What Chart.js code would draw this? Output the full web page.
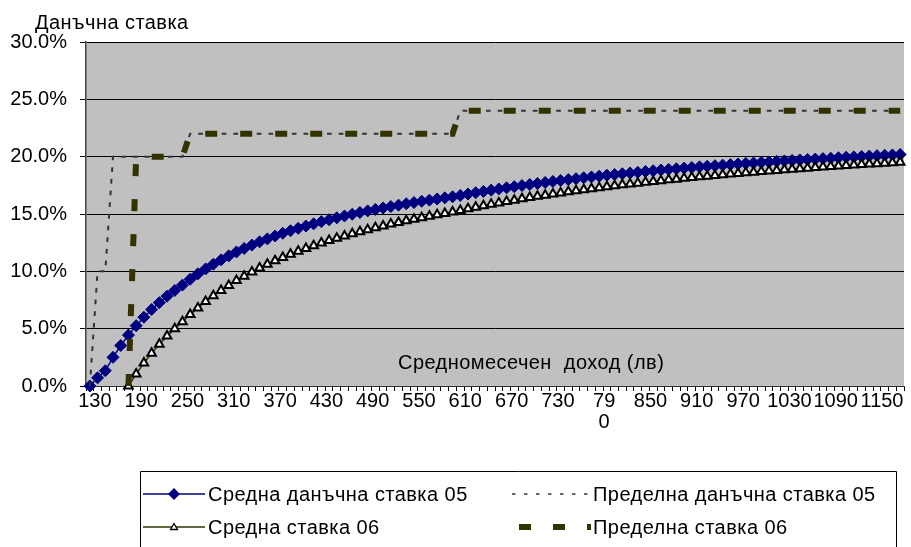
<!DOCTYPE html>
<html>
<head>
<meta charset="utf-8">
<script src="https://cdn.jsdelivr.net/npm/chart.js@4.4.1/dist/chart.umd.min.js"></script>
<style>
  html, body { margin: 0; padding: 0; background: #fff; }
  #wrap { width: 911px; height: 547px; position: relative; overflow: hidden; }
</style>
</head>
<body>
<div id="wrap"><canvas id="c" width="911" height="547"></canvas></div>
<script>
// ---- data (income in лв, rates in %) ----
const categories = [
  130,140,150,160,170,180,190,200,210,220,
  230,240,250,260,270,280,290,300,310,320,
  330,340,350,360,370,380,390,400,410,420,
  430,440,450,460,470,480,490,500,510,520,
  530,540,550,560,570,580,590,600,610,620,
  630,640,650,660,670,680,690,700,710,720,
  730,740,750,760,770,780,790,800,810,820,
  830,840,850,860,870,880,890,900,910,920,
  930,940,950,960,970,980,990,1000,1010,1020,
  1030,1040,1050,1060,1070,1080,1090,1100,1110,1120,
  1130,1140,1150,1160,1170,1180
];

const avgRate05 = [
  0,0.71,1.33,2.5,3.53,4.44,5.26,6.0,6.67,7.27,
  7.83,8.33,8.8,9.31,9.78,10.21,10.62,11.0,11.35,11.69,
  12.0,12.29,12.57,12.83,13.08,13.32,13.54,13.75,13.95,14.14,
  14.33,14.5,14.67,14.83,14.98,15.13,15.27,15.4,15.53,15.65,
  15.77,15.89,16.0,16.11,16.21,16.31,16.41,16.5,16.62,16.74,
  16.86,16.97,17.08,17.18,17.28,17.38,17.48,17.57,17.66,17.75,
  17.84,17.92,18.0,18.08,18.16,18.23,18.3,18.38,18.44,18.51,
  18.58,18.64,18.71,18.77,18.83,18.89,18.94,19.0,19.05,19.11,
  19.16,19.21,19.26,19.31,19.36,19.41,19.45,19.5,19.54,19.59,
  19.63,19.67,19.71,19.75,19.79,19.83,19.87,19.91,19.95,19.98,
  20.02,20.05,20.09,20.12,20.15,20.19
];

const margRate05 = [
  0,10,10,20,20,20,20,20,20,20,
  20,20,20,22,22,22,22,22,22,22,
  22,22,22,22,22,22,22,22,22,22,
  22,22,22,22,22,22,22,22,22,22,
  22,22,22,22,22,22,22,22,24,24,
  24,24,24,24,24,24,24,24,24,24,
  24,24,24,24,24,24,24,24,24,24,
  24,24,24,24,24,24,24,24,24,24,
  24,24,24,24,24,24,24,24,24,24,
  24,24,24,24,24,24,24,24,24,24,
  24,24,24,24,24,24
];

const avgRate06 = [
  null,null,null,null,null,0,1.05,2.0,2.86,3.64,
  4.35,5.0,5.6,6.23,6.81,7.36,7.86,8.33,8.77,9.19,
  9.58,9.94,10.29,10.61,10.92,11.21,11.49,11.75,12.0,12.24,
  12.47,12.68,12.89,13.09,13.28,13.46,13.63,13.8,13.96,14.12,
  14.26,14.41,14.55,14.68,14.81,14.93,15.05,15.17,15.31,15.45,
  15.59,15.72,15.85,15.97,16.09,16.21,16.32,16.43,16.54,16.64,
  16.74,16.84,16.93,17.03,17.12,17.21,17.29,17.38,17.46,17.54,
  17.61,17.69,17.76,17.84,17.91,17.98,18.04,18.11,18.18,18.24,
  18.3,18.36,18.42,18.48,18.54,18.59,18.65,18.7,18.75,18.8,
  18.85,18.9,18.95,19.0,19.05,19.09,19.14,19.18,19.23,19.27,
  19.31,19.35,19.39,19.43,19.47,19.51
];

const margRate06 = [
  null,null,null,null,null,0,20,20,20,20,
  20,20,20,22,22,22,22,22,22,22,
  22,22,22,22,22,22,22,22,22,22,
  22,22,22,22,22,22,22,22,22,22,
  22,22,22,22,22,22,22,22,24,24,
  24,24,24,24,24,24,24,24,24,24,
  24,24,24,24,24,24,24,24,24,24,
  24,24,24,24,24,24,24,24,24,24,
  24,24,24,24,24,24,24,24,24,24,
  24,24,24,24,24,24,24,24,24,24,
  24,24,24,24,24,24
];

const xTickLabels = ['130','190','250','310','370','430','490','550','610','670','730','790','850','910','970','1030','1090','1150'];
const yTicks = [0, 5, 10, 15, 20, 25, 30];

const seriesNames = ['Средна данъчна ставка 05', 'Пределна данъчна ставка 05', 'Средна ставка 06', 'Пределна ставка 06'];
const yAxisTitle = 'Данъчна ставка';
const xAxisTitle = 'Средномесечен  доход (лв)';

// ---- styling ----
const FAMILY = '"Liberation Sans", Arial, sans-serif';
const FSIZE = 20;
const FONT = FSIZE + 'px ' + FAMILY;
const NAVY = '#000080';
const OLIVE = '#333300';
const DOTC = '#333333';

function drawTri(ctx, x, y, r) {
  ctx.beginPath();
  ctx.moveTo(x, y - r);
  ctx.lineTo(x + r * 0.866, y + r * 0.5);
  ctx.lineTo(x - r * 0.866, y + r * 0.5);
  ctx.closePath();
}

const extras = {
  id: 'extras',
  afterDraw(chart) {
    const ctx = chart.ctx;
    ctx.save();
    ctx.font = FONT;
    ctx.fillStyle = '#000';
    ctx.textAlign = 'left';
    ctx.textBaseline = 'alphabetic';
    if ('letterSpacing' in ctx) ctx.letterSpacing = '0.45px';
    ctx.fillText(yAxisTitle, 35, 29);
    ctx.fillText(xAxisTitle, 398, 369);

    // legend box
    ctx.strokeStyle = '#000';
    ctx.lineWidth = 1;
    ctx.beginPath();
    ctx.moveTo(140.5, 547);
    ctx.lineTo(140.5, 471.5);
    ctx.lineTo(896.5, 471.5);
    ctx.lineTo(896.5, 547);
    ctx.stroke();

    const r1 = 494, r2 = 527;
    // entry 1
    ctx.strokeStyle = NAVY; ctx.lineWidth = 1.5; ctx.setLineDash([]);
    ctx.beginPath(); ctx.moveTo(143, r1); ctx.lineTo(205, r1); ctx.stroke();
    ctx.fillStyle = NAVY;
    ctx.beginPath();
    ctx.moveTo(174, r1 - 6); ctx.lineTo(180, r1); ctx.lineTo(174, r1 + 6); ctx.lineTo(168, r1); ctx.closePath();
    ctx.fill();
    // entry 3
    ctx.strokeStyle = OLIVE; ctx.lineWidth = 1.5;
    ctx.beginPath(); ctx.moveTo(143, r2); ctx.lineTo(205, r2); ctx.stroke();
    ctx.fillStyle = '#fff'; ctx.strokeStyle = '#000'; ctx.lineWidth = 1.3;
    drawTri(ctx, 174, r2 + 0.5, 4);
    ctx.fill(); ctx.stroke();
    // entry 2
    ctx.strokeStyle = DOTC; ctx.lineWidth = 1.5; ctx.setLineDash([3.5, 8.5]);
    ctx.beginPath(); ctx.moveTo(512, r1); ctx.lineTo(590, r1); ctx.stroke();
    // entry 4
    ctx.strokeStyle = OLIVE; ctx.lineWidth = 6; ctx.setLineDash([12, 22]); ctx.lineCap = 'butt';
    ctx.beginPath(); ctx.moveTo(519, r2); ctx.lineTo(591, r2); ctx.stroke();
    ctx.setLineDash([]);

    ctx.fillStyle = '#000';
    ctx.fillText(seriesNames[0], 208, r1 + 7);
    ctx.fillText(seriesNames[1], 593, r1 + 7);
    ctx.fillText(seriesNames[2], 208, r2 + 7);
    ctx.fillText(seriesNames[3], 593, r2 + 7);
    ctx.restore();
  }
};

const plotBg = {
  id: 'plotBg',
  beforeDraw(chart) {
    const a = chart.chartArea, ctx = chart.ctx;
    ctx.save();
    ctx.fillStyle = '#fff';
    ctx.fillRect(0, 0, chart.width, chart.height);
    ctx.fillStyle = '#C0C0C0';
    ctx.fillRect(a.left, a.top, a.right - a.left, a.bottom - a.top);
    ctx.restore();
  }
};

new Chart(document.getElementById('c'), {
  type: 'line',
  data: {
    labels: categories.map(String),
    datasets: [
      {
        label: seriesNames[0], data: avgRate05, order: 4,
        borderColor: NAVY, borderWidth: 1.5, tension: 0,
        pointStyle: 'rectRot', pointRadius: 6, pointBorderWidth: 1,
        pointBackgroundColor: NAVY, pointBorderColor: NAVY, clip: false
      },
      {
        label: seriesNames[1], data: margRate05, order: 3,
        borderColor: DOTC, borderWidth: 2, borderDash: [4.7, 7], borderCapStyle: 'butt',
        tension: 0, pointRadius: 0, clip: false
      },
      {
        label: seriesNames[2], data: avgRate06, order: 2,
        borderColor: OLIVE, borderWidth: 1.5, tension: 0,
        pointStyle: 'triangle', pointRadius: 5, pointBorderWidth: 2,
        pointBackgroundColor: '#FFFFFF', pointBorderColor: '#000000', clip: false
      },
      {
        label: seriesNames[3], data: margRate06, order: 1,
        borderColor: OLIVE, borderWidth: 6, borderDash: [12, 23], borderCapStyle: 'butt',
        tension: 0, pointRadius: 0, clip: false
      }
    ]
  },
  options: {
    responsive: false,
    animation: false,
    events: [],
    layout: { padding: { top: 42, left: 0, right: 0, bottom: 0 } },
    plugins: { legend: { display: false }, tooltip: { enabled: false } },
    scales: {
      x: {
        type: 'category',
        offset: true,
        grid: { display: true, drawOnChartArea: false, drawTicks: true, tickLength: 5, color: '#000', tickColor: '#000', offset: true },
        border: { display: true, color: '#333', width: 1 },
        ticks: {
          autoSkip: false, maxRotation: 0, minRotation: 0, padding: 0, labelOffset: 5,
          color: '#000', font: { family: FAMILY, size: FSIZE, lineHeight: 1.05 },
          callback: function (v, i) {
            const lab = String(categories[i]);
            if (xTickLabels.indexOf(lab) < 0) return '';
            if (lab === '790') return ['79', '0'];
            return lab;
          }
        },
        afterFit: function (s) { s.height = 161; }
      },
      y: {
        min: 0, max: 30,
        afterBuildTicks: function (s) { s.ticks = yTicks.map(v => ({ value: v })); },
        grid: { color: '#000', lineWidth: 1, tickLength: 6, tickColor: '#000', drawTicks: true },
        border: { display: true, color: '#444', width: 1.5 },
        ticks: {
          padding: 13, color: '#000', font: { family: FAMILY, size: FSIZE },
          callback: function (v) { return Number(v).toFixed(1) + '%'; }
        },
        afterFit: function (s) { s.width = 86; }
      }
    }
  },
  plugins: [plotBg, extras]
});
</script>
</body>
</html>
